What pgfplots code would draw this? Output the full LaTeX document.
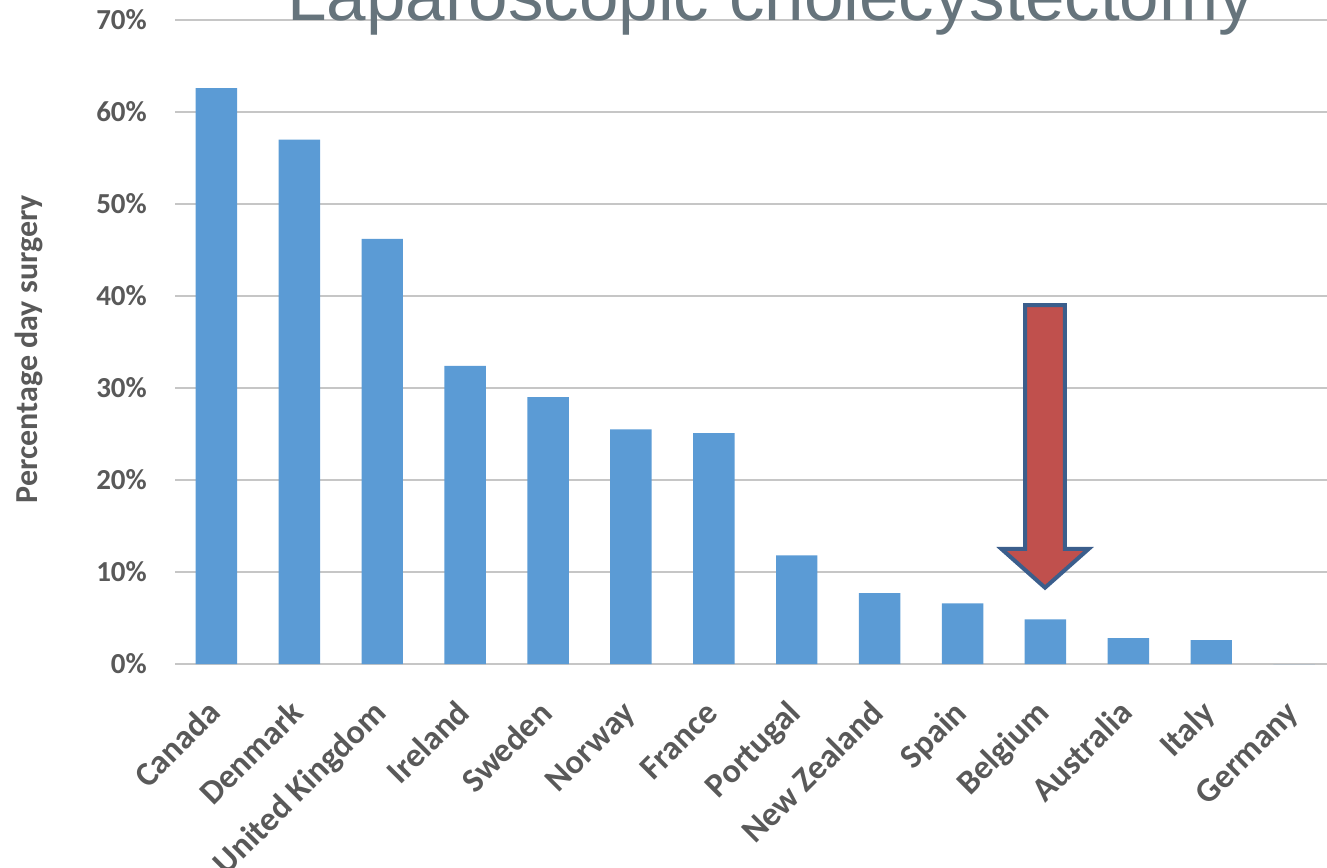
\documentclass[border=0pt]{standalone}
\usepackage{fontspec}
\setmainfont{Carlito}
\newfontfamily\titlefont{Liberation Sans}
\usepackage{pgfplots}
\pgfplotsset{compat=1.18}
\definecolor{barblue}{HTML}{5B9BD5}
\definecolor{txtgray}{HTML}{595959}
\definecolor{titlegray}{HTML}{66747C}
\definecolor{gridgray}{HTML}{C6C6C6}
\definecolor{axgray}{HTML}{A6A6A6}
\definecolor{arrowred}{HTML}{C0504D}
\definecolor{arrowblue}{HTML}{3B5E8C}
\pgfplotstableread{
x val
0 62.6
1 57.0
2 46.2
3 32.4
4 29.0
5 25.5
6 25.1
7 11.8
8 7.7
9 6.6
10 4.86
11 2.8
12 2.6
13 0
}\datatable
\begin{document}
\begin{tikzpicture}[x=1pt,y=1pt]
\useasboundingbox (0,0) rectangle (1327,867);
\clip (0,0) rectangle (1327,867);
\begin{axis}[
  at={(175pt,203pt)}, anchor=south west,
  width=1160.6pt, height=644pt, scale only axis,
  xmin=-0.5, xmax=13.5, ymin=0, ymax=70,
  y axis line style={draw=none},
  x axis line style={draw=axgray, line width=1.3pt},
  major tick length=0pt,
  ytick={0,10,...,70},
  ymajorgrids, grid style={draw=gridgray, line width=1.2pt},
  xtick={0,...,13},
  xticklabels={Canada,Denmark,United Kingdom,Ireland,Sweden,Norway,France,Portugal,New Zealand,Spain,Belgium,Australia,Italy,Germany},
  yticklabel={\pgfmathprintnumber{\tick}\%},
  /pgf/number format/assume math mode=true,
  yticklabel style={font=\bfseries\fontsize{29}{34}\selectfont, text=txtgray, anchor=east, inner sep=0pt, xshift=-28pt},
  xticklabel style={font=\bfseries\fontsize{34}{40}\selectfont, text=txtgray, xshift=6pt, yshift=-51pt, rotate=45, anchor=base east, inner sep=0pt},
  ylabel={Percentage day surgery},
  every axis y label/.style={at={(axis description cs:-0.1256,0.489)}, rotate=90, anchor=center, font=\bfseries\fontsize{32}{38}\selectfont, text=txtgray},
]
\addplot[ybar, bar width=0.5, fill=barblue, draw=none] table[x=x, y=val] {\datatable};
\draw[arrowblue, line width=4pt, fill=arrowred, line join=miter]
  (axis cs:9.755,39.0) -- (axis cs:10.235,39.0) -- (axis cs:10.235,12.5)
  -- (axis cs:10.52,12.5) -- (axis cs:9.995,8.3) -- (axis cs:9.47,12.5)
  -- (axis cs:9.755,12.5) -- cycle;
\end{axis}
\node[anchor=base west, inner sep=0pt, text=titlegray, font=\titlefont\fontsize{71}{80}\selectfont] at (287,846) {Laparoscopic cholecystectomy};
\end{tikzpicture}
\end{document}
